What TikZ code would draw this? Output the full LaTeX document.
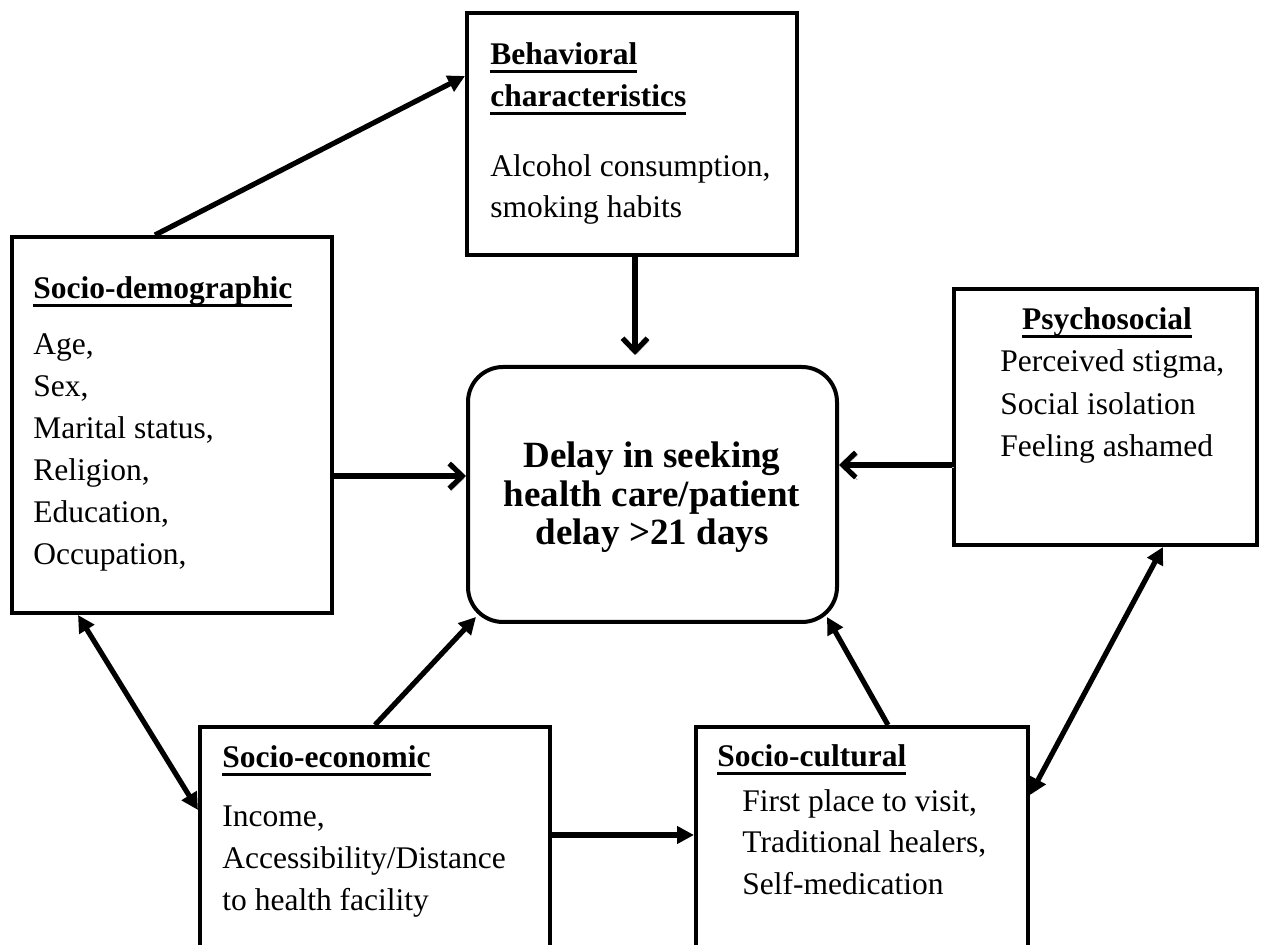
\documentclass[tikz,border=0pt]{standalone}
\usepackage{fontspec}
\setmainfont{Liberation Serif}
\usetikzlibrary{arrows.meta,calc,fit}
\newsavebox{\myulbox}
\newcommand{\myul}[1]{\sbox{\myulbox}{#1}\rlap{\rule[-3.9pt]{\wd\myulbox}{1.6pt}}\usebox{\myulbox}}
\begin{document}
\begin{tikzpicture}[x=0.5pt,y=-0.5pt,
  box/.style={draw,line width=2pt,inner sep=0pt},
  txt/.style={inner sep=0pt,anchor=base west,font=\fontsize{15.75}{21}\selectfont},
  ttl/.style={txt,font=\fontsize{15.75}{21}\selectfont\bfseries},
  ctr/.style={inner sep=0pt,anchor=base,font=\fontsize{18.5}{19}\selectfont\bfseries},
  fa/.style={line width=2.6pt,-{Triangle[length=8.5pt,width=8.5pt]}},
  fab/.style={line width=2.6pt,{Triangle[length=8.5pt,width=8.5pt]}-{Triangle[length=8.5pt,width=8.5pt]}},
  va/.style={line width=2.6pt,-{Straight Barb[length=6.5pt,width=12.5pt]},
    preaction={draw=black!35,transform canvas={shift={(0.8pt,-1.2pt)}}}}
]
\useasboundingbox (0,0) rectangle (1265,945);
\fill[white] (0,0) rectangle (1265,945);
\clip (0,0) rectangle (1265,945);

% boxes
\node[box,fit={(467,13)(797,255)}] (beh) {};
\node[box,fit={(12,237)(332,613)}] (demo) {};
\node[box,fit={(954,289)(1257,545)}] (psy) {};
\node[box,rounded corners=17.5pt,fit={(468,367)(837,622)}] (cen) {};
\node[box,fit={(200,727)(550,960)}] (econ) {};
\node[box,fit={(696,727)(1028,960)}] (cult) {};

% behavioral
\node[ttl] (behT1) at (490,65) {\myul{Behavioral}};
\node[ttl] (behT2) at (490,107) {\myul{characteristics}};
\node[txt] (behL1) at (490,177) {Alcohol consumption,};
\node[txt] (behL2) at (490,218) {smoking habits};

% socio-demographic
\node[ttl] (demoT) at (33,299) {\myul{Socio-demographic}};
\node[txt] (demoL1) at (33,355) {Age,};
\node[txt] (demoL2) at (33,397) {Sex,};
\node[txt] (demoL3) at (33,439) {Marital status,};
\node[txt] (demoL4) at (33,481) {Religion,};
\node[txt] (demoL5) at (33,523) {Education,};
\node[txt] (demoL6) at (33,565) {Occupation,};

% psychosocial
\node[ttl,anchor=base] (psyT) at (1107,330) {\myul{Psychosocial}};
\node[txt] (psyL1) at (1000,372) {Perceived stigma,};
\node[txt] (psyL2) at (1000,415) {Social isolation};
\node[txt] (psyL3) at (1000,457) {Feeling ashamed};

% central
\node[ctr] (cenL1) at (652,468) {Delay in seeking};
\node[ctr] (cenL2) at (652,507) {health care/patient};
\node[ctr] (cenL3) at (652,545) {delay >21 days};

% socio-economic
\node[ttl] (econT) at (222,768) {\myul{Socio-economic}};
\node[txt] (econL1) at (222,827) {Income,};
\node[txt] (econL2) at (222,869) {Accessibility/Distance};
\node[txt] (econL3) at (222,911) {to health facility};

% socio-cultural
\node[ttl] (cultT) at (717,767) {\myul{Socio-cultural}};
\node[txt] (cultL1) at (742,812) {First place to visit,};
\node[txt] (cultL2) at (742,853) {Traditional healers,};
\node[txt] (cultL3) at (742,895) {Self-medication};

% connectors
\draw[fa] ($(demo.north west)+(145,0)$) -- ($(beh.north west)+(0,65)$);
\draw[va] ($(beh.south west)+(170,0)$) -- ($(cen.north west)+(169,-10)$);
\draw[va] ($(demo.north east)+(0,241)$) -- ($(cen.north west)+(0,111)$);
\draw[va] ($(psy.north west)+(0,178)$) -- ($(cen.north east)+(0,100)$);
\draw[fab] ($(demo.south west)+(68,0)$) -- ($(econ.north west)+(0,85)$);
\draw[fa] ($(econ.north west)+(177,0)$) -- ($(cen.south west)+(10,-7)$);
\draw[fa] ($(econ.north east)+(0,110)$) -- ($(cult.north west)+(0,110)$);
\draw[fa] ($(cult.north west)+(194,0)$) -- ($(cen.south east)+(-12,-7)$);
\draw[fab] ($(cult.north east)+(0,70)$) -- ($(psy.south west)+(211,0)$);
\end{tikzpicture}
\end{document}
